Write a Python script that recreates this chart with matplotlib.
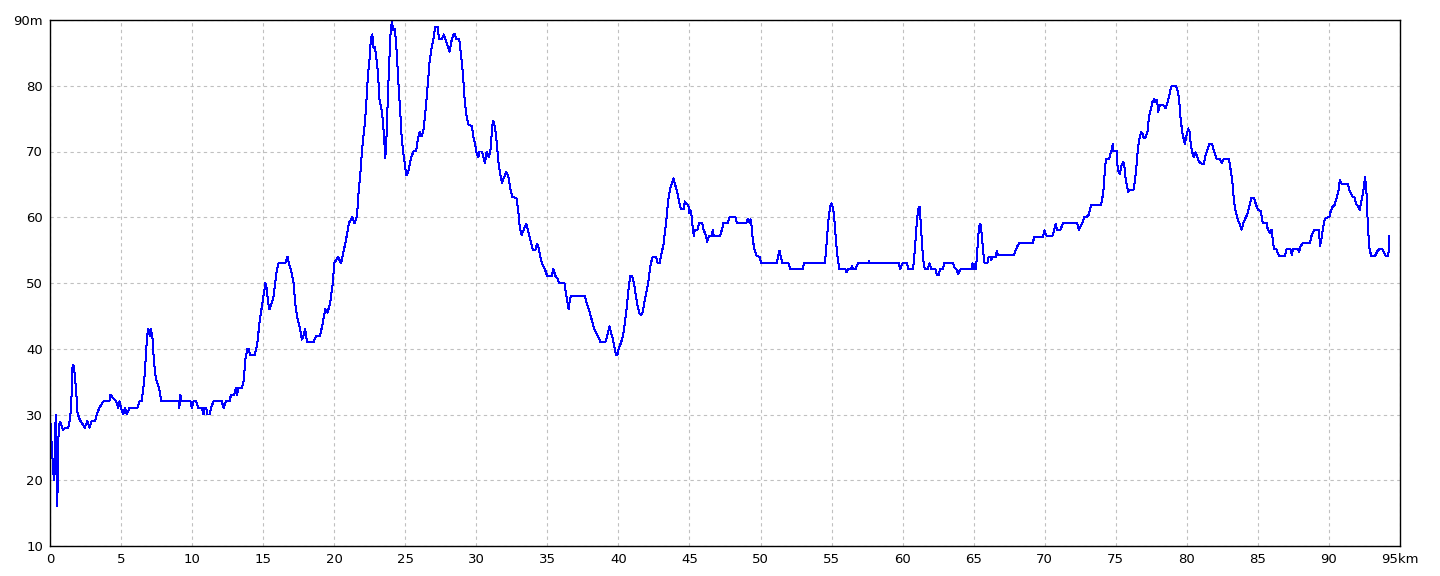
import matplotlib
matplotlib.use('Agg')
import matplotlib.pyplot as plt

# Elevation profile (distance km, elevation m)
dist_km = [
    0.00, 0.02, 0.09, 0.16, 0.23, 0.30, 0.35, 0.40, 0.42, 0.47, 0.51, 0.56, 0.61, 0.70, 0.77, 0.86, 0.93,
    1.05, 1.29, 1.38, 1.47, 1.52, 1.59, 1.68, 1.75, 1.85, 1.94, 2.06, 2.17, 2.34, 2.45, 2.63, 2.77, 2.93,
    3.17, 3.29, 3.47, 3.76, 4.18, 4.25, 4.65, 4.81, 4.88, 5.00, 5.16, 5.28, 5.40, 5.59, 6.15, 6.29, 6.45,
    6.57, 6.64, 6.74, 6.83, 6.92, 7.02, 7.09, 7.21, 7.30, 7.39, 7.51, 7.68, 7.84, 9.04, 9.10, 9.17, 9.27,
    9.88, 9.98, 10.09, 10.28, 10.45, 10.68, 10.80, 10.87, 10.99, 11.08, 11.22, 11.34, 11.50, 12.09, 12.21,
    12.39, 12.63, 12.74, 12.96, 13.08, 13.15, 13.26, 13.50, 13.62, 13.76, 13.90, 13.99, 14.08, 14.41, 14.51,
    14.60, 14.74, 14.88, 15.02, 15.16, 15.26, 15.35, 15.45, 15.61, 15.73, 15.85, 15.96, 16.08, 16.55, 16.71,
    16.81, 16.95, 17.14, 17.25, 17.42, 17.60, 17.72, 17.84, 17.96, 18.08, 18.55, 18.73, 19.01, 19.20, 19.37,
    19.53, 19.72, 19.90, 20.00, 20.26, 20.49, 20.68, 20.85, 21.03, 21.27, 21.43, 21.60, 21.69, 21.83, 21.97,
    22.14, 22.25, 22.37, 22.49, 22.58, 22.68, 22.77, 22.86, 22.96, 23.08, 23.19, 23.36, 23.45, 23.54, 23.59,
    23.66, 23.73, 23.85, 23.97, 24.06, 24.15, 24.25, 24.32, 24.41, 24.51, 24.65, 24.72, 24.84, 24.95, 25.07,
    25.19, 25.31, 25.42, 25.59, 25.77, 25.89, 26.01, 26.13, 26.27, 26.39, 26.50, 26.60, 26.71, 26.85, 26.99,
    27.11, 27.28, 27.37, 27.58, 27.72, 27.89, 28.03, 28.12, 28.24, 28.38, 28.50, 28.59, 28.80, 28.92, 29.06,
    29.15, 29.30, 29.46, 29.69, 29.81, 29.93, 30.02, 30.14, 30.23, 30.40, 30.49, 30.61, 30.73, 30.87, 30.99,
    31.06, 31.13, 31.20, 31.31, 31.43, 31.55, 31.69, 31.81, 31.92, 32.11, 32.25, 32.39, 32.54, 32.82, 32.93,
    33.05, 33.19, 33.33, 33.52, 33.66, 33.83, 33.99, 34.15, 34.27, 34.39, 34.51, 34.65, 34.81, 34.98, 35.14,
    35.31, 35.42, 35.56, 35.70, 35.82, 36.20, 36.29, 36.41, 36.50, 36.60, 36.69, 37.65, 37.77, 37.93, 38.12,
    38.29, 38.47, 38.64, 38.71, 39.08, 39.23, 39.37, 39.46, 39.60, 39.77, 39.84, 39.93, 40.02, 40.16, 40.31,
    40.45, 40.59, 40.70, 40.82, 40.96, 41.10, 41.24, 41.36, 41.48, 41.60, 41.71, 41.85, 41.99, 42.11, 42.18,
    42.28, 42.42, 42.65, 42.77, 42.89, 43.03, 43.17, 43.26, 43.36, 43.45, 43.54, 43.64, 43.76, 43.87, 43.94,
    44.06, 44.18, 44.30, 44.39, 44.58, 44.67, 44.77, 44.91, 45.00, 45.07, 45.14, 45.23, 45.31, 45.38, 45.56,
    45.68, 45.89, 45.99, 46.15, 46.24, 46.36, 46.57, 46.64, 46.71, 47.16, 47.28, 47.39, 47.68, 47.82, 48.24,
    48.33, 48.99, 49.11, 49.20, 49.30, 49.37, 49.46, 49.58, 49.74, 49.93, 50.05, 51.15, 51.22, 51.34, 51.43,
    51.55, 51.97, 52.11, 52.98, 53.05, 54.51, 54.60, 54.69, 54.81, 54.93, 55.02, 55.12, 55.21, 55.33, 55.45,
    55.56, 55.96, 56.06, 56.15, 56.36, 56.43, 56.50, 56.69, 56.85, 57.56, 57.63, 57.70, 59.72, 59.84, 59.98,
    60.31, 60.40, 60.73, 60.82, 60.92, 61.01, 61.10, 61.20, 61.29, 61.39, 61.48, 61.57, 61.76, 61.90, 62.00,
    62.30, 62.42, 62.54, 62.63, 62.84, 62.93, 63.54, 63.64, 63.78, 63.90, 63.99, 64.11, 64.88, 64.91, 65.00,
    65.05, 65.16, 65.24, 65.33, 65.42, 65.49, 65.59, 65.68, 65.77, 65.96, 66.06, 66.17, 66.24, 66.31, 66.55,
    66.64, 66.71, 67.82, 67.93, 68.05, 68.22, 69.15, 69.27, 69.88, 69.98, 70.12, 70.54, 70.66, 70.77, 70.87,
    71.10, 71.29, 72.28, 72.39, 72.51, 72.63, 72.79, 72.98, 73.12, 73.17, 73.26, 73.97, 74.06, 74.15, 74.25,
    74.34, 74.53, 74.62, 74.69, 74.79, 74.81, 75.05, 75.14, 75.23, 75.28, 75.40, 75.52, 75.59, 75.66, 75.75,
    75.87, 75.96, 76.24, 76.34, 76.46, 76.55, 76.64, 76.78, 76.88, 76.97, 77.11, 77.23, 77.35, 77.46, 77.58,
    77.70, 77.79, 77.91, 77.98, 78.10, 78.38, 78.50, 78.62, 78.76, 78.90, 79.20, 79.32, 79.44, 79.55, 79.67,
    79.77, 79.86, 79.98, 80.09, 80.19, 80.28, 80.38, 80.49, 80.61, 80.73, 80.87, 81.06, 81.20, 81.29, 81.43,
    81.57, 81.78, 81.90, 82.09, 82.32, 82.46, 82.61, 82.96, 83.08, 83.19, 83.31, 83.43, 83.59, 83.73, 83.85,
    83.97, 84.11, 84.25, 84.39, 84.53, 84.72, 84.84, 85.00, 85.19, 85.35, 85.61, 85.70, 85.85, 85.96, 86.08,
    86.13, 86.31, 86.48, 86.90, 87.02, 87.30, 87.39, 87.46, 87.82, 87.91, 88.00, 88.19, 88.66, 88.76, 88.94,
    89.30, 89.37, 89.48, 89.60, 89.72, 90.03, 90.12, 90.26, 90.40, 90.54, 90.68, 90.77, 90.89, 91.34, 91.43,
    91.64, 91.81, 91.90, 92.05, 92.16, 92.30, 92.42, 92.54, 92.63, 92.70, 92.77, 92.86, 92.98, 93.24, 93.40,
    93.52, 93.76, 93.87, 93.99, 94.18, 94.25,
]
elev_m = [
    32, 29.2, 26.6, 24, 21.2, 20, 25, 30, 25, 19.5, 16, 22, 28.1, 28.9, 28.6, 27.9, 27.6,
    28, 28, 29.1, 30.7, 33, 37.5, 37.3, 35.8, 33.2, 30.2, 29.4, 28.9, 28.4, 28, 29, 28, 29,
    29, 30, 31, 32, 32, 33, 32, 31, 32, 31, 30, 31, 30, 31, 31, 32, 32,
    34, 35.5, 38.6, 42, 43, 42, 43, 41.7, 38.6, 36.4, 35, 34, 32, 32, 31, 33, 32,
    32, 31, 32, 32, 31, 31, 30, 31, 31, 30, 30, 31, 32, 32, 31,
    32, 32, 33, 33, 34, 33, 34, 34, 35, 38.6, 40, 40, 39, 39, 40,
    41, 44, 46, 48, 50, 49, 47, 46, 47, 48, 50, 52, 53, 53, 54,
    53, 52, 50, 47, 44.5, 43, 41.4, 42, 43, 41, 41, 42, 42, 44, 46,
    45.5, 47, 50, 53, 54, 53, 55, 56.8, 59.1, 60, 59.1, 60.1, 63.1, 66.4, 70.5,
    74, 77, 81.6, 84.2, 87.2, 87.8, 85.7, 85.9, 84.4, 81.9, 77.8, 76, 74, 71, 69,
    71, 75.5, 82.6, 88.2, 89.8, 88.5, 88.7, 87.4, 84.7, 80.6, 76, 73, 70, 68.5, 66.4,
    66.7, 68, 69.2, 70, 70.1, 72, 73, 72.3, 73, 75.5, 78, 80.6, 83.6, 85.7, 87.2,
    89, 89, 87.1, 87.1, 87.8, 86.7, 85.7, 85.2, 86.7, 87.8, 87.8, 87.1, 87.1, 84.7, 81.9,
    78.6, 75.5, 74, 73.9, 72, 71, 69.7, 69.2, 70, 70, 69.2, 68.2, 70, 69.2, 70,
    72, 74, 74.6, 73.8, 71.5, 68.5, 66.4, 65.2, 65.9, 66.9, 66.2, 64.4, 63.1, 62.9, 61.4,
    58.6, 57.3, 58.1, 59, 57.8, 56.3, 55, 55, 56, 55.3, 53.9, 52.8, 52.2, 51.1, 51,
    51.1, 52.1, 51.1, 50.7, 50, 50, 48.7, 47.2, 46, 47.7, 48, 48, 46.9, 45.9, 44.4,
    43.1, 42.2, 41.6, 41, 41, 42.1, 43.4, 42.6, 41.6, 39.8, 39, 39, 40, 40.8, 41.8,
    43.9, 46.4, 48.9, 51, 51, 50, 47.9, 46.4, 45.4, 45.1, 45.6, 47.4, 48.9, 50.2, 51.5,
    53, 54, 54, 53, 53, 54.5, 55.8, 57.6, 59.3, 61.4, 63.1, 64.4, 65.2, 65.9, 65.4,
    64.4, 63.4, 62.1, 61.2, 61.2, 62.4, 62, 61.9, 60.6, 61.1, 60.4, 58.3, 57.2, 58.1, 58.1,
    59.1, 59.1, 58.1, 57.3, 56.3, 57.1, 57.1, 58.1, 57.2, 57.2, 58.1, 59.1, 59.1, 60, 60,
    59.1, 59.1, 59.8, 59.2, 59.7, 58.6, 56.5, 55, 54.1, 54, 53, 53, 54, 54.9, 54,
    53, 53, 52.1, 52.1, 53, 53, 54.5, 57.3, 60.4, 61.8, 62.1, 61.2, 59.3, 55.9, 53.4,
    52.1, 52.1, 51.6, 52.1, 52.1, 52.6, 52.1, 52.1, 53, 53, 53.3, 53, 53, 52.1, 53,
    53, 52.1, 52.1, 54, 56.8, 59.6, 61.2, 61.6, 58.4, 55.1, 53, 52.1, 52.1, 53, 52.1,
    52.1, 51.2, 51.2, 52.1, 52.1, 53, 53, 52.4, 52.1, 51.3, 51.8, 52.1, 52.1, 53, 52.9,
    52.1, 52.1, 54.5, 57.3, 58.9, 58.9, 56.8, 54.5, 53, 53, 54, 54, 53.5, 54, 54,
    54.9, 54.2, 54.2, 54.8, 55.5, 56.1, 56.1, 57, 57, 58, 57.2, 57.2, 58, 59, 58,
    58.1, 59.1, 59.1, 58.1, 58.6, 59.1, 60, 60.1, 60.4, 61.1, 61.9, 61.9, 63, 64.4, 67.9,
    68.9, 68.9, 69.7, 70.1, 71.1, 70.1, 70.1, 67.2, 66.9, 66.6, 67.9, 68.4, 68.2, 66.4, 65.2,
    63.9, 64.1, 64.1, 65.4, 67.9, 70.2, 71.7, 73, 72.7, 72, 72.2, 73, 75.5, 76.3, 77.5,
    78, 77.5, 77.8, 76, 77, 77, 76.6, 77.3, 78.5, 79.9, 80, 79.5, 78.3, 75.3, 73,
    72, 71.2, 72.5, 73.5, 73, 71, 69.9, 69.1, 69.9, 69.2, 68.4, 68.1, 68.1, 69.2, 70.2,
    71.1, 71.1, 70.1, 68.9, 68.9, 68.2, 68.9, 68.9, 67.2, 65.7, 62.6, 60.9, 59.6, 59, 58.1,
    59.1, 59.8, 60.4, 61.6, 62.9, 63, 62.1, 61.1, 61, 59.1, 59.1, 58.1, 57.6, 58.1, 56.1,
    55.1, 55.1, 54.1, 54.1, 55.1, 55.1, 54.3, 55.1, 55.1, 54.7, 55.6, 56.1, 56.1, 57.1, 58,
    58, 55.6, 56.8, 58.6, 59.8, 60.1, 60.9, 61.6, 61.9, 62.9, 64.1, 65.7, 65.1, 65.1, 64.1,
    63.2, 63, 62.1, 61.6, 61.1, 62.6, 64.1, 66.1, 64.3, 60.6, 57.6, 55.1, 54.1, 54.1, 54.8,
    55.1, 55.1, 54.6, 54.1, 54.1, 57.2,
]

x_ticks = list(range(0, 100, 5))
x_labels = [str(v) for v in x_ticks[:-1]] + ['95km']
y_ticks = list(range(10, 100, 10))
y_labels = [str(v) for v in y_ticks[:-1]] + ['90m']

fig = plt.figure(figsize=(14.4, 5.76), dpi=100)
ax = fig.add_axes([50 / 1440, 30 / 576, 1350 / 1440, 526 / 576])

# one-pixel aliased line, like the original rendering
ax.plot(dist_km, elev_m, color='#0000ff', linewidth=0.72, antialiased=False)

ax.set_xlim(0, 95)
ax.set_ylim(10, 90)
ax.set_xticks(x_ticks)
ax.set_xticklabels(x_labels)
ax.set_yticks(y_ticks)
ax.set_yticklabels(y_labels)
ax.tick_params(length=0, labelsize=9.5, pad=5)
ax.grid(True, color='#c0c0c0', linestyle=(0, (3, 3)), linewidth=0.8)
for s in ax.spines.values():
    s.set_color('black')
    s.set_linewidth(1.0)

fig.savefig('out.png', dpi=100, facecolor='white')
